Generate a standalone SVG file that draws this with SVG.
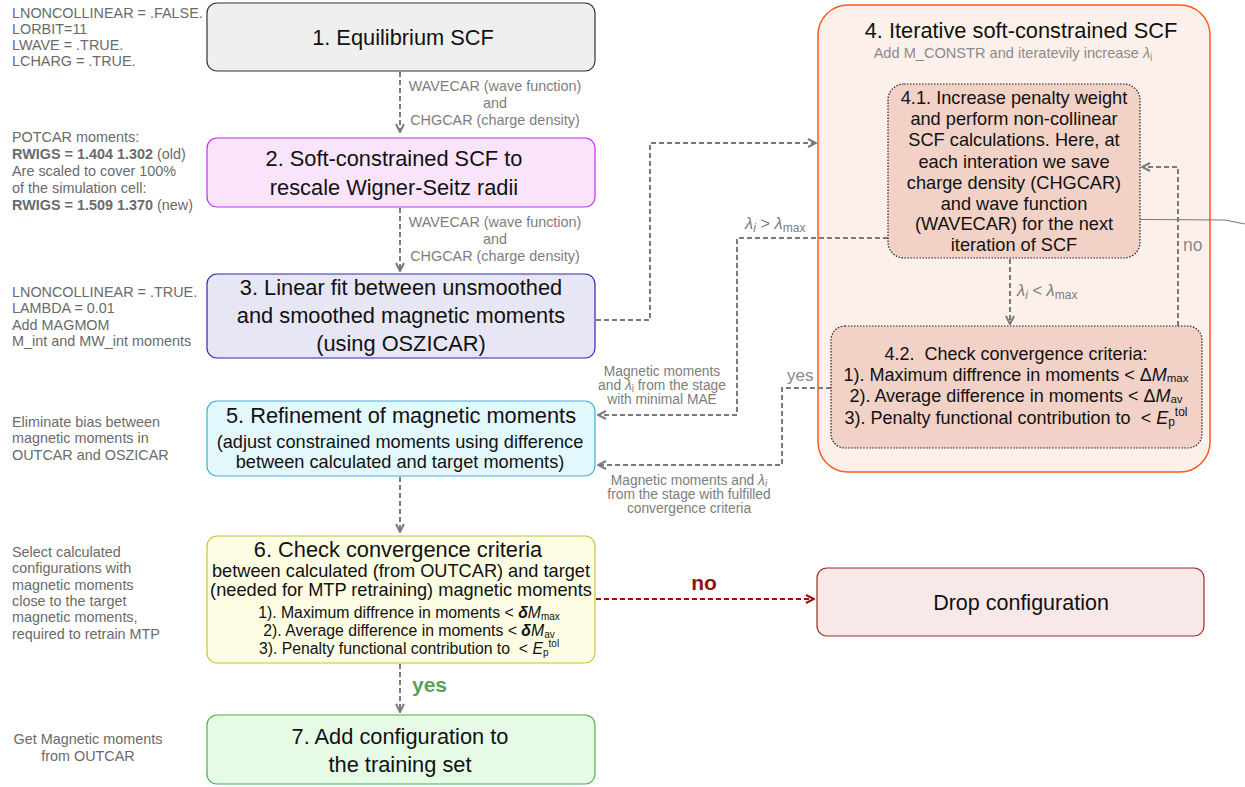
<svg xmlns="http://www.w3.org/2000/svg" width="1245" height="787" viewBox="0 0 1245 787">
<style>
text{font-family:"Liberation Sans",Arial,sans-serif;}
.t{fill:#111;text-anchor:middle;}
.h{font-size:21.8px;}
.note{fill:#6a6a6a;font-size:14.4px;}
.lbl{fill:#7d7d7d;font-size:14.4px;text-anchor:middle;}
.sl{fill:#7d7d7d;font-size:13.8px;text-anchor:middle;}
.dash{fill:none;stroke:#7a7a7a;stroke-width:2;stroke-dasharray:5 3;}
</style>
<defs>
<marker id="ah" viewBox="0 0 10 10" refX="9" refY="5" markerWidth="10" markerHeight="10" markerUnits="userSpaceOnUse" orient="auto">
<path d="M1,1 L9,5 L1,9" fill="none" stroke="#7a7a7a" stroke-width="2"/>
</marker>
<marker id="ahr" viewBox="0 0 10 10" refX="9" refY="5" markerWidth="10" markerHeight="10" markerUnits="userSpaceOnUse" orient="auto">
<path d="M1,1 L9,5 L1,9" fill="none" stroke="#961010" stroke-width="2"/>
</marker>
</defs>
<rect width="1245" height="787" fill="#fff"/>

<g id="notes">
<text class="note" x="12" y="18">LNONCOLLINEAR = .FALSE.</text>
<text class="note" x="12" y="34">LORBIT=11</text>
<text class="note" x="12" y="50">LWAVE = .TRUE.</text>
<text class="note" x="12" y="66">LCHARG = .TRUE.</text>
<text class="note" x="12" y="142">POTCAR moments:</text>
<text class="note" x="12" y="159"><tspan font-weight="bold">RWIGS = 1.404 1.302</tspan> (old)</text>
<text class="note" x="12" y="176">Are scaled to cover 100%</text>
<text class="note" x="12" y="193">of the simulation cell:</text>
<text class="note" x="12" y="210"><tspan font-weight="bold">RWIGS = 1.509 1.370</tspan> (new)</text>
<text class="note" x="12" y="297">LNONCOLLINEAR = .TRUE.</text>
<text class="note" x="12" y="313">LAMBDA = 0.01</text>
<text class="note" x="12" y="330">Add MAGMOM</text>
<text class="note" x="12" y="346">M_int and MW_int moments</text>
<text class="note" x="12" y="427">Eliminate bias between</text>
<text class="note" x="12" y="443">magnetic moments in</text>
<text class="note" x="12" y="460">OUTCAR and OSZICAR</text>
<text class="note" x="12" y="557">Select calculated</text>
<text class="note" x="12" y="573">configurations with</text>
<text class="note" x="12" y="590">magnetic moments</text>
<text class="note" x="12" y="606">close to the target</text>
<text class="note" x="12" y="622">magnetic moments,</text>
<text class="note" x="12" y="639">required to retrain MTP</text>
<text class="note" x="88" y="744" text-anchor="middle">Get Magnetic moments</text>
<text class="note" x="88" y="761" text-anchor="middle">from OUTCAR</text>
</g>

<g id="node4">
<rect x="818" y="5" width="392" height="467" rx="30" fill="#fdf0eb" stroke="#ff5a1a" stroke-width="1.5"/>
<text class="t h" x="1021" y="38">4. Iterative soft-constrained SCF</text>
<text x="1013" y="58" font-size="14.6" fill="#8a8a8a" text-anchor="middle">Add M_CONSTR and iteratevily increase <tspan font-style="italic">λ</tspan><tspan font-size="10" dy="3">i</tspan></text>
</g>

<g id="connectors">
<path class="dash" d="M400,72 V132" marker-end="url(#ah)"/>
<path class="dash" d="M400,208 V271" marker-end="url(#ah)"/>
<path class="dash" d="M400,477 V532" marker-end="url(#ah)"/>
<path class="dash" d="M400,664 V712" marker-end="url(#ah)"/>
<path class="dash" d="M596,320 H650 V143 H816" marker-end="url(#ah)"/>
<path class="dash" d="M888,238 H737 V415 H598" marker-end="url(#ah)"/>
<path class="dash" d="M831,388 H782 V465 H598" marker-end="url(#ah)"/>
<path class="dash" d="M1010,259 V324" marker-end="url(#ah)"/>
<path class="dash" d="M1178,326 V167 H1142" marker-end="url(#ah)"/>
<path d="M596,599 H814" fill="none" stroke="#961010" stroke-width="2" stroke-dasharray="5 3" marker-end="url(#ahr)"/>
<polyline points="1067,219 1225,220 1245,224" fill="none" stroke="#777" stroke-width="1.2"/>

<text class="lbl" x="495" y="91">WAVECAR (wave function)</text>
<text class="lbl" x="495" y="108">and</text>
<text class="lbl" x="495" y="125">CHGCAR (charge density)</text>
<text class="lbl" x="495" y="227">WAVECAR (wave function)</text>
<text class="lbl" x="495" y="244">and</text>
<text class="lbl" x="495" y="261">CHGCAR (charge density)</text>
<text x="412" y="692" font-size="21" font-weight="bold" fill="#5aa05a">yes</text>
<text x="704" y="590" font-size="21" font-weight="bold" fill="#961010" text-anchor="middle">no</text>
<text x="745" y="229" font-size="16.5" fill="#7d7d7d"><tspan font-style="italic">λ</tspan><tspan font-style="italic" font-size="12" dy="3">i</tspan><tspan dy="-3"> &gt; </tspan><tspan font-style="italic">λ</tspan><tspan font-size="12" dy="3">max</tspan></text>
<text class="sl" x="662" y="376">Magnetic moments</text>
<text class="sl" x="662" y="390">and <tspan font-style="italic">λ</tspan><tspan font-size="10" dy="1.5">i</tspan><tspan dy="-1.5"> from the stage</tspan></text>
<text class="sl" x="662" y="404">with minimal MAE</text>
<text x="787" y="381" font-size="17" fill="#8a8a8a">yes</text>
<text class="sl" x="689" y="485">Magnetic moments and <tspan font-style="italic">λ</tspan><tspan font-style="italic" font-size="10" dy="1.5">i</tspan></text>
<text class="sl" x="689" y="499">from the stage with fulfilled</text>
<text class="sl" x="689" y="513">convergence criteria</text>
<text x="1017" y="296" font-size="16.5" fill="#7d7d7d"><tspan font-style="italic">λ</tspan><tspan font-style="italic" font-size="12" dy="3">i</tspan><tspan dy="-3"> &lt; </tspan><tspan font-style="italic">λ</tspan><tspan font-size="12" dy="3">max</tspan></text>
<text x="1183" y="251" font-size="17.5" fill="#8a8a8a">no</text>
</g>

<g id="node1">
<rect x="207" y="3" width="388" height="68" rx="10" fill="#efefef" stroke="#333" stroke-width="1.2"/>
<text class="t h" x="403" y="45">1. Equilibrium SCF</text>
</g>
<g id="node2">
<rect x="207" y="138" width="388" height="69" rx="10" fill="#f9e4fc" stroke="#c030e8" stroke-width="1.2"/>
<text class="t h" x="394" y="166">2. Soft-constrained SCF to</text>
<text class="t h" x="394" y="195">rescale Wigner-Seitz radii</text>
</g>
<g id="node3">
<rect x="207" y="274" width="388" height="84" rx="10" fill="#e6e6f4" stroke="#2a2ab0" stroke-width="1.2"/>
<text class="t h" x="401" y="295">3. Linear fit between unsmoothed</text>
<text class="t h" x="401" y="323">and smoothed magnetic moments</text>
<text class="t h" x="401" y="351">(using OSZICAR)</text>
</g>
<g id="node41">
<rect x="888" y="84" width="252" height="174" rx="16" fill="#f2d2c6" stroke="#222" stroke-width="1.2" stroke-dasharray="1.5 1.5"/>
<text class="t" x="1014" y="104" font-size="18.2">4.1. Increase penalty weight</text>
<text class="t" x="1014" y="125" font-size="18.2">and perform non-collinear</text>
<text class="t" x="1014" y="146" font-size="18.2">SCF calculations. Here, at</text>
<text class="t" x="1014" y="168" font-size="18.2">each interation we save</text>
<text class="t" x="1014" y="189" font-size="18.2">charge density (CHGCAR)</text>
<text class="t" x="1014" y="210" font-size="18.2">and wave function</text>
<text class="t" x="1014" y="230" font-size="18.2">(WAVECAR) for the next</text>
<text class="t" x="1014" y="251" font-size="18.2">iteration of SCF</text>
</g>
<g id="node42">
<rect x="831" y="326" width="371" height="122" rx="14" fill="#f2d2c6" stroke="#222" stroke-width="1.2" stroke-dasharray="1.5 1.5"/>
<text class="t" x="1016" y="360" font-size="18">4.2.&#160; Check convergence criteria:</text>
<text class="t" x="1016" y="381" font-size="18">1). Maximum diffrence in moments &lt; Δ<tspan font-style="italic">M</tspan><tspan font-size="11.5" dy="1">max</tspan></text>
<text class="t" x="1016" y="402" font-size="18">2). Average difference in moments &lt; Δ<tspan font-style="italic">M</tspan><tspan font-size="11.5" dy="1">av</tspan></text>
<text class="t" x="1016" y="424" font-size="18">3). Penalty functional contribution to&#160; &lt; <tspan font-style="italic">E</tspan><tspan font-size="12" dy="1.5">p</tspan><tspan font-size="12" dy="-9.5">tol</tspan></text>
</g>
<g id="node5">
<rect x="207" y="401" width="388" height="75" rx="10" fill="#e3f8fc" stroke="#3ab0d8" stroke-width="1.2"/>
<text class="t h" x="401" y="423">5. Refinement of magnetic moments</text>
<text class="t" x="400" y="448" font-size="18.2">(adjust constrained moments using difference</text>
<text class="t" x="400" y="468" font-size="18.2">between calculated and target moments)</text>
</g>
<g id="node6">
<rect x="207" y="536" width="388" height="127" rx="10" fill="#fdfde3" stroke="#c8c23a" stroke-width="1.2"/>
<text class="t h" x="398" y="557">6. Check convergence criteria</text>
<text class="t" x="401" y="577" font-size="18.2">between calculated (from OUTCAR) and target</text>
<text class="t" x="401" y="596" font-size="18.2">(needed for MTP retraining) magnetic moments</text>
<text class="t" x="409" y="618" font-size="15.8">1). Maximum diffrence in moments &lt; <tspan font-weight="bold" font-style="italic">δ</tspan><tspan font-style="italic">M</tspan><tspan font-size="10" dy="1.5">max</tspan></text>
<text class="t" x="409" y="636" font-size="15.8">2). Average difference in moments &lt; <tspan font-weight="bold" font-style="italic">δ</tspan><tspan font-style="italic">M</tspan><tspan font-size="10" dy="1.5">av</tspan></text>
<text class="t" x="409" y="654" font-size="15.8">3). Penalty functional contribution to&#160; &lt; <tspan font-style="italic">E</tspan><tspan font-size="10" dy="1.5">p</tspan><tspan font-size="10" dy="-8.5">tol</tspan></text>
</g>
<g id="node7">
<rect x="207" y="715" width="388" height="69" rx="10" fill="#e6fbe6" stroke="#4caf50" stroke-width="1.2"/>
<text class="t h" x="400" y="744">7. Add configuration to</text>
<text class="t h" x="400" y="772">the training set</text>
</g>
<g id="drop">
<rect x="817" y="568" width="387" height="68" rx="10" fill="#f8e8e8" stroke="#a02828" stroke-width="1.2"/>
<text class="t" x="1021" y="610" font-size="21.5">Drop configuration</text>
</g>
</svg>
